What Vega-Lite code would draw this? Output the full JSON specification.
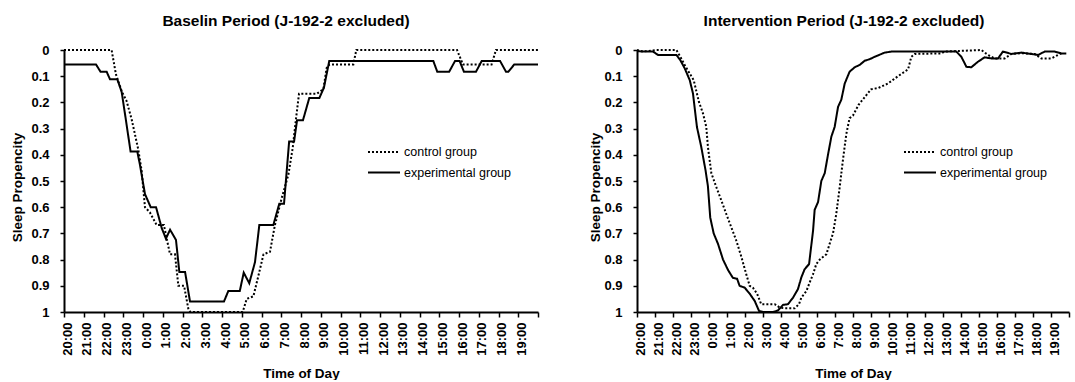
{
  "$schema": "https://vega.github.io/schema/vega-lite/v6.json",
  "background": "white",
  "padding": {"left": 10, "top": 13, "right": 0, "bottom": 0},
  "config": {
    "view": {"stroke": null},
    "font": "Liberation Sans",
    "concat": {"spacing": 40},
    "axis": {
      "grid": false,
      "domainColor": "black",
      "domainWidth": 2,
      "tickColor": "black",
      "tickWidth": 1.5,
      "labelColor": "black",
      "labelFont": "Liberation Sans",
      "labelFontWeight": "bold",
      "labelFontSize": 13,
      "labelFlush": false,
      "labelOverlap": false,
      "titleColor": "black",
      "titleFont": "Liberation Sans",
      "titleFontSize": 13.5,
      "titleFontWeight": "bold"
    },
    "title": {"font": "Liberation Sans", "fontSize": 15.5, "fontWeight": "bold", "color": "black", "anchor": "middle", "frame": "group", "baseline": "alphabetic", "offset": 15},
    "legend": {
      "orient": "none",
      "title": null,
      "padding": 0,
      "symbolType": "stroke",
      "symbolSize": 1024,
      "symbolStrokeWidth": 2,
      "symbolStrokeColor": "black",
      "labelFont": "Liberation Sans",
      "labelFontSize": 12.5,
      "labelColor": "black",
      "labelOffset": 3,
      "clipHeight": 14,
      "rowPadding": 6.6
    }
  },
  "datasets": {
    "baseline": [
      {"group": "experimental group", "hour": 0, "sp": 0.055},
      {"group": "experimental group", "hour": 1.62, "sp": 0.055},
      {"group": "experimental group", "hour": 1.85, "sp": 0.083},
      {"group": "experimental group", "hour": 2.16, "sp": 0.083},
      {"group": "experimental group", "hour": 2.33, "sp": 0.112},
      {"group": "experimental group", "hour": 2.7, "sp": 0.112},
      {"group": "experimental group", "hour": 2.92, "sp": 0.16},
      {"group": "experimental group", "hour": 3.1, "sp": 0.25},
      {"group": "experimental group", "hour": 3.37, "sp": 0.387},
      {"group": "experimental group", "hour": 3.71, "sp": 0.387},
      {"group": "experimental group", "hour": 3.85, "sp": 0.44},
      {"group": "experimental group", "hour": 4.1, "sp": 0.55},
      {"group": "experimental group", "hour": 4.39, "sp": 0.6},
      {"group": "experimental group", "hour": 4.66, "sp": 0.6},
      {"group": "experimental group", "hour": 4.95, "sp": 0.68},
      {"group": "experimental group", "hour": 5.16, "sp": 0.72},
      {"group": "experimental group", "hour": 5.37, "sp": 0.686},
      {"group": "experimental group", "hour": 5.67, "sp": 0.725},
      {"group": "experimental group", "hour": 5.84, "sp": 0.847},
      {"group": "experimental group", "hour": 6.13, "sp": 0.847},
      {"group": "experimental group", "hour": 6.38, "sp": 0.96},
      {"group": "experimental group", "hour": 8.1, "sp": 0.96},
      {"group": "experimental group", "hour": 8.32, "sp": 0.92},
      {"group": "experimental group", "hour": 8.9, "sp": 0.92},
      {"group": "experimental group", "hour": 9.1, "sp": 0.85},
      {"group": "experimental group", "hour": 9.38, "sp": 0.89},
      {"group": "experimental group", "hour": 9.67, "sp": 0.81},
      {"group": "experimental group", "hour": 9.89, "sp": 0.668},
      {"group": "experimental group", "hour": 10.6, "sp": 0.668},
      {"group": "experimental group", "hour": 10.9, "sp": 0.587},
      {"group": "experimental group", "hour": 11.14, "sp": 0.587},
      {"group": "experimental group", "hour": 11.4, "sp": 0.349},
      {"group": "experimental group", "hour": 11.65, "sp": 0.349},
      {"group": "experimental group", "hour": 11.8, "sp": 0.268},
      {"group": "experimental group", "hour": 12.1, "sp": 0.268},
      {"group": "experimental group", "hour": 12.42, "sp": 0.183},
      {"group": "experimental group", "hour": 12.93, "sp": 0.183},
      {"group": "experimental group", "hour": 13.16, "sp": 0.144},
      {"group": "experimental group", "hour": 13.43, "sp": 0.042},
      {"group": "experimental group", "hour": 18.7, "sp": 0.042},
      {"group": "experimental group", "hour": 18.9, "sp": 0.083},
      {"group": "experimental group", "hour": 19.5, "sp": 0.083},
      {"group": "experimental group", "hour": 19.8, "sp": 0.042},
      {"group": "experimental group", "hour": 20.03, "sp": 0.042},
      {"group": "experimental group", "hour": 20.25, "sp": 0.083},
      {"group": "experimental group", "hour": 20.86, "sp": 0.083},
      {"group": "experimental group", "hour": 21.15, "sp": 0.042},
      {"group": "experimental group", "hour": 22.08, "sp": 0.042},
      {"group": "experimental group", "hour": 22.38, "sp": 0.083},
      {"group": "experimental group", "hour": 22.5, "sp": 0.083},
      {"group": "experimental group", "hour": 22.8, "sp": 0.055},
      {"group": "experimental group", "hour": 24, "sp": 0.055},
      {"group": "control group", "hour": 0, "sp": 0},
      {"group": "control group", "hour": 2.41, "sp": 0},
      {"group": "control group", "hour": 2.63, "sp": 0.093},
      {"group": "control group", "hour": 2.92, "sp": 0.157},
      {"group": "control group", "hour": 3.17, "sp": 0.195},
      {"group": "control group", "hour": 3.43, "sp": 0.266},
      {"group": "control group", "hour": 3.76, "sp": 0.38},
      {"group": "control group", "hour": 3.93, "sp": 0.46},
      {"group": "control group", "hour": 4.1, "sp": 0.6},
      {"group": "control group", "hour": 4.35, "sp": 0.62},
      {"group": "control group", "hour": 4.69, "sp": 0.668},
      {"group": "control group", "hour": 5.06, "sp": 0.668},
      {"group": "control group", "hour": 5.2, "sp": 0.72},
      {"group": "control group", "hour": 5.37, "sp": 0.78},
      {"group": "control group", "hour": 5.62, "sp": 0.78},
      {"group": "control group", "hour": 5.79, "sp": 0.9},
      {"group": "control group", "hour": 6.08, "sp": 0.9},
      {"group": "control group", "hour": 6.3, "sp": 0.99},
      {"group": "control group", "hour": 6.4, "sp": 1},
      {"group": "control group", "hour": 9.05, "sp": 1},
      {"group": "control group", "hour": 9.25, "sp": 0.95},
      {"group": "control group", "hour": 9.59, "sp": 0.94},
      {"group": "control group", "hour": 9.89, "sp": 0.847},
      {"group": "control group", "hour": 10.1, "sp": 0.78},
      {"group": "control group", "hour": 10.43, "sp": 0.77},
      {"group": "control group", "hour": 10.68, "sp": 0.668},
      {"group": "control group", "hour": 11.02, "sp": 0.566},
      {"group": "control group", "hour": 11.36, "sp": 0.476},
      {"group": "control group", "hour": 11.58, "sp": 0.374},
      {"group": "control group", "hour": 11.75, "sp": 0.26},
      {"group": "control group", "hour": 11.9, "sp": 0.167},
      {"group": "control group", "hour": 12.8, "sp": 0.167},
      {"group": "control group", "hour": 13.13, "sp": 0.15},
      {"group": "control group", "hour": 13.3, "sp": 0.068},
      {"group": "control group", "hour": 13.45, "sp": 0.055},
      {"group": "control group", "hour": 14.65, "sp": 0.055},
      {"group": "control group", "hour": 14.8, "sp": 0},
      {"group": "control group", "hour": 19.9, "sp": 0},
      {"group": "control group", "hour": 20.2, "sp": 0.055},
      {"group": "control group", "hour": 21.65, "sp": 0.055},
      {"group": "control group", "hour": 21.87, "sp": 0},
      {"group": "control group", "hour": 24, "sp": 0}
    ],
    "intervention": [
      {"group": "experimental group", "hour": 0, "sp": 0.005},
      {"group": "experimental group", "hour": 0.89, "sp": 0.006},
      {"group": "experimental group", "hour": 1.17, "sp": 0.019},
      {"group": "experimental group", "hour": 2.19, "sp": 0.019},
      {"group": "experimental group", "hour": 2.4, "sp": 0.038},
      {"group": "experimental group", "hour": 2.65, "sp": 0.07},
      {"group": "experimental group", "hour": 2.93, "sp": 0.115},
      {"group": "experimental group", "hour": 3.11, "sp": 0.166},
      {"group": "experimental group", "hour": 3.33, "sp": 0.294},
      {"group": "experimental group", "hour": 3.57, "sp": 0.37},
      {"group": "experimental group", "hour": 3.81, "sp": 0.46},
      {"group": "experimental group", "hour": 3.94, "sp": 0.52},
      {"group": "experimental group", "hour": 4.07, "sp": 0.64},
      {"group": "experimental group", "hour": 4.26, "sp": 0.7},
      {"group": "experimental group", "hour": 4.5, "sp": 0.74},
      {"group": "experimental group", "hour": 4.78, "sp": 0.8},
      {"group": "experimental group", "hour": 5.06, "sp": 0.84},
      {"group": "experimental group", "hour": 5.33, "sp": 0.87},
      {"group": "experimental group", "hour": 5.56, "sp": 0.873},
      {"group": "experimental group", "hour": 5.7, "sp": 0.9},
      {"group": "experimental group", "hour": 5.98, "sp": 0.907},
      {"group": "experimental group", "hour": 6.26, "sp": 0.93},
      {"group": "experimental group", "hour": 6.54, "sp": 0.958},
      {"group": "experimental group", "hour": 6.78, "sp": 0.996},
      {"group": "experimental group", "hour": 7.0, "sp": 1},
      {"group": "experimental group", "hour": 7.56, "sp": 1},
      {"group": "experimental group", "hour": 7.83, "sp": 0.994},
      {"group": "experimental group", "hour": 8.11, "sp": 0.973},
      {"group": "experimental group", "hour": 8.39, "sp": 0.97},
      {"group": "experimental group", "hour": 8.67, "sp": 0.945},
      {"group": "experimental group", "hour": 8.94, "sp": 0.913},
      {"group": "experimental group", "hour": 9.13, "sp": 0.868},
      {"group": "experimental group", "hour": 9.31, "sp": 0.837},
      {"group": "experimental group", "hour": 9.56, "sp": 0.817},
      {"group": "experimental group", "hour": 9.78, "sp": 0.69},
      {"group": "experimental group", "hour": 9.87, "sp": 0.61},
      {"group": "experimental group", "hour": 10.06, "sp": 0.58},
      {"group": "experimental group", "hour": 10.24, "sp": 0.5},
      {"group": "experimental group", "hour": 10.43, "sp": 0.47},
      {"group": "experimental group", "hour": 10.61, "sp": 0.4},
      {"group": "experimental group", "hour": 10.8, "sp": 0.33},
      {"group": "experimental group", "hour": 10.98, "sp": 0.294},
      {"group": "experimental group", "hour": 11.17, "sp": 0.217},
      {"group": "experimental group", "hour": 11.35, "sp": 0.19},
      {"group": "experimental group", "hour": 11.54, "sp": 0.128},
      {"group": "experimental group", "hour": 11.81, "sp": 0.083},
      {"group": "experimental group", "hour": 12.09, "sp": 0.066},
      {"group": "experimental group", "hour": 12.37, "sp": 0.057},
      {"group": "experimental group", "hour": 12.65, "sp": 0.041},
      {"group": "experimental group", "hour": 12.93, "sp": 0.035},
      {"group": "experimental group", "hour": 13.2, "sp": 0.026},
      {"group": "experimental group", "hour": 13.76, "sp": 0.01},
      {"group": "experimental group", "hour": 14.13, "sp": 0.006},
      {"group": "experimental group", "hour": 17.74, "sp": 0.006},
      {"group": "experimental group", "hour": 18.02, "sp": 0.026},
      {"group": "experimental group", "hour": 18.3, "sp": 0.064},
      {"group": "experimental group", "hour": 18.57, "sp": 0.066},
      {"group": "experimental group", "hour": 18.94, "sp": 0.045},
      {"group": "experimental group", "hour": 19.31, "sp": 0.028},
      {"group": "experimental group", "hour": 19.68, "sp": 0.032},
      {"group": "experimental group", "hour": 20.06, "sp": 0.032},
      {"group": "experimental group", "hour": 20.33, "sp": 0.006},
      {"group": "experimental group", "hour": 20.8, "sp": 0.015},
      {"group": "experimental group", "hour": 21.35, "sp": 0.01},
      {"group": "experimental group", "hour": 21.9, "sp": 0.015},
      {"group": "experimental group", "hour": 22.28, "sp": 0.019},
      {"group": "experimental group", "hour": 22.65, "sp": 0.006},
      {"group": "experimental group", "hour": 23.2, "sp": 0.006},
      {"group": "experimental group", "hour": 23.57, "sp": 0.013},
      {"group": "experimental group", "hour": 23.85, "sp": 0.013},
      {"group": "control group", "hour": 0, "sp": 0},
      {"group": "control group", "hour": 0.33, "sp": 0.006},
      {"group": "control group", "hour": 1.07, "sp": 0},
      {"group": "control group", "hour": 2.19, "sp": 0},
      {"group": "control group", "hour": 2.41, "sp": 0.026},
      {"group": "control group", "hour": 2.65, "sp": 0.057},
      {"group": "control group", "hour": 2.93, "sp": 0.09},
      {"group": "control group", "hour": 3.15, "sp": 0.115},
      {"group": "control group", "hour": 3.44, "sp": 0.198},
      {"group": "control group", "hour": 3.67, "sp": 0.243},
      {"group": "control group", "hour": 3.85, "sp": 0.294},
      {"group": "control group", "hour": 3.94, "sp": 0.37},
      {"group": "control group", "hour": 4.13, "sp": 0.47},
      {"group": "control group", "hour": 4.41, "sp": 0.524},
      {"group": "control group", "hour": 4.69, "sp": 0.575},
      {"group": "control group", "hour": 4.96, "sp": 0.626},
      {"group": "control group", "hour": 5.24, "sp": 0.677},
      {"group": "control group", "hour": 5.52, "sp": 0.728},
      {"group": "control group", "hour": 5.8, "sp": 0.79},
      {"group": "control group", "hour": 6.07, "sp": 0.856},
      {"group": "control group", "hour": 6.26, "sp": 0.9},
      {"group": "control group", "hour": 6.44, "sp": 0.907},
      {"group": "control group", "hour": 6.67, "sp": 0.93},
      {"group": "control group", "hour": 6.9, "sp": 0.97},
      {"group": "control group", "hour": 7.65, "sp": 0.97},
      {"group": "control group", "hour": 7.93, "sp": 0.983},
      {"group": "control group", "hour": 8.2, "sp": 0.986},
      {"group": "control group", "hour": 8.76, "sp": 0.986},
      {"group": "control group", "hour": 9.0, "sp": 0.97},
      {"group": "control group", "hour": 9.13, "sp": 0.945},
      {"group": "control group", "hour": 9.41, "sp": 0.92},
      {"group": "control group", "hour": 9.59, "sp": 0.888},
      {"group": "control group", "hour": 9.78, "sp": 0.856},
      {"group": "control group", "hour": 9.96, "sp": 0.817},
      {"group": "control group", "hour": 10.15, "sp": 0.8},
      {"group": "control group", "hour": 10.33, "sp": 0.79},
      {"group": "control group", "hour": 10.52, "sp": 0.78},
      {"group": "control group", "hour": 10.7, "sp": 0.74},
      {"group": "control group", "hour": 10.89, "sp": 0.7},
      {"group": "control group", "hour": 11.07, "sp": 0.626},
      {"group": "control group", "hour": 11.26, "sp": 0.524},
      {"group": "control group", "hour": 11.44, "sp": 0.42},
      {"group": "control group", "hour": 11.63, "sp": 0.32},
      {"group": "control group", "hour": 11.81, "sp": 0.26},
      {"group": "control group", "hour": 12.0, "sp": 0.25},
      {"group": "control group", "hour": 12.3, "sp": 0.21},
      {"group": "control group", "hour": 12.65, "sp": 0.18},
      {"group": "control group", "hour": 13.0, "sp": 0.15},
      {"group": "control group", "hour": 13.4, "sp": 0.145},
      {"group": "control group", "hour": 13.94, "sp": 0.128},
      {"group": "control group", "hour": 14.5, "sp": 0.1},
      {"group": "control group", "hour": 15.06, "sp": 0.074},
      {"group": "control group", "hour": 15.24, "sp": 0.026},
      {"group": "control group", "hour": 15.43, "sp": 0.015},
      {"group": "control group", "hour": 16.9, "sp": 0.013},
      {"group": "control group", "hour": 17.09, "sp": 0.006},
      {"group": "control group", "hour": 19.13, "sp": 0},
      {"group": "control group", "hour": 19.5, "sp": 0.019},
      {"group": "control group", "hour": 19.87, "sp": 0.032},
      {"group": "control group", "hour": 20.43, "sp": 0.032},
      {"group": "control group", "hour": 20.8, "sp": 0.015},
      {"group": "control group", "hour": 21.35, "sp": 0.012},
      {"group": "control group", "hour": 22.09, "sp": 0.015},
      {"group": "control group", "hour": 22.46, "sp": 0.032},
      {"group": "control group", "hour": 23.02, "sp": 0.032},
      {"group": "control group", "hour": 23.39, "sp": 0.019},
      {"group": "control group", "hour": 23.57, "sp": 0.013}
    ]
  },
  "hconcat": [
    {
      "width": 474,
      "height": 262,
      "title": {"text": "Baselin Period (J-192-2 excluded)", "dx": -15},
      "data": {"name": "baseline"},
      "mark": {"type": "line", "color": "black", "strokeWidth": 2},
      "encoding": {
        "x": {
          "field": "hour", "type": "quantitative",
          "scale": {"domain": [0, 24], "nice": false, "zero": false},
          "axis": {
            "title": "Time of Day",
            "values": [0,1,2,3,4,5,6,7,8,9,10,11,12,13,14,15,16,17,18,19,20,21,22,23,24],
            "labelExpr": "datum.value == 24 ? '' : ((datum.value + 20) % 24) + ':00'",
            "labelAngle": -90,
            "tickSize": 5,
            "labelPadding": 5,
            "labelOffset": 3,
            "titleBaseline": "alphabetic",
            "titleY": 65
          }
        },
        "y": {
          "field": "sp", "type": "quantitative",
          "scale": {"domain": [0, 1], "reverse": true, "nice": false, "zero": false},
          "axis": {
            "title": "Sleep Propencity",
            "values": [0,0.1,0.2,0.3,0.4,0.5,0.6,0.7,0.8,0.9,1],
            "format": ".1~f",
            "tickSize": 4,
            "labelPadding": 11,
            "titleBaseline": "middle",
            "titleX": -47,
            "titleY": 137
          }
        },
        "strokeDash": {
          "field": "group", "type": "nominal",
          "scale": {"domain": ["control group", "experimental group"], "range": [[2, 2], [1, 0]]},
          "legend": {"legendX": 303, "legendY": 95}
        }
      }
    },
    {
      "width": 432,
      "height": 262,
      "title": {"text": "Intervention Period (J-192-2 excluded)", "dx": -9},
      "data": {"name": "intervention"},
      "mark": {"type": "line", "color": "black", "strokeWidth": 2},
      "encoding": {
        "x": {
          "field": "hour", "type": "quantitative",
          "scale": {"domain": [0, 24], "nice": false, "zero": false},
          "axis": {
            "title": "Time of Day",
            "values": [0,1,2,3,4,5,6,7,8,9,10,11,12,13,14,15,16,17,18,19,20,21,22,23,24],
            "labelExpr": "datum.value == 24 ? '' : ((datum.value + 20) % 24) + ':00'",
            "labelAngle": -90,
            "tickSize": 5,
            "labelPadding": 5,
            "labelOffset": 3,
            "titleBaseline": "alphabetic",
            "titleY": 65
          }
        },
        "y": {
          "field": "sp", "type": "quantitative",
          "scale": {"domain": [0, 1], "reverse": true, "nice": false, "zero": false},
          "axis": {
            "title": "Sleep Propencity",
            "values": [0,0.1,0.2,0.3,0.4,0.5,0.6,0.7,0.8,0.9,1],
            "format": ".1~f",
            "tickSize": 4,
            "labelPadding": 11,
            "titleBaseline": "middle",
            "titleX": -42,
            "titleY": 137
          }
        },
        "strokeDash": {
          "field": "group", "type": "nominal",
          "scale": {"domain": ["control group", "experimental group"], "range": [[2, 2], [1, 0]]},
          "legend": {"legendX": 266, "legendY": 95}
        }
      }
    }
  ],
  "resolve": {"scale": {"strokeDash": "independent"}, "legend": {"strokeDash": "independent"}}
}
